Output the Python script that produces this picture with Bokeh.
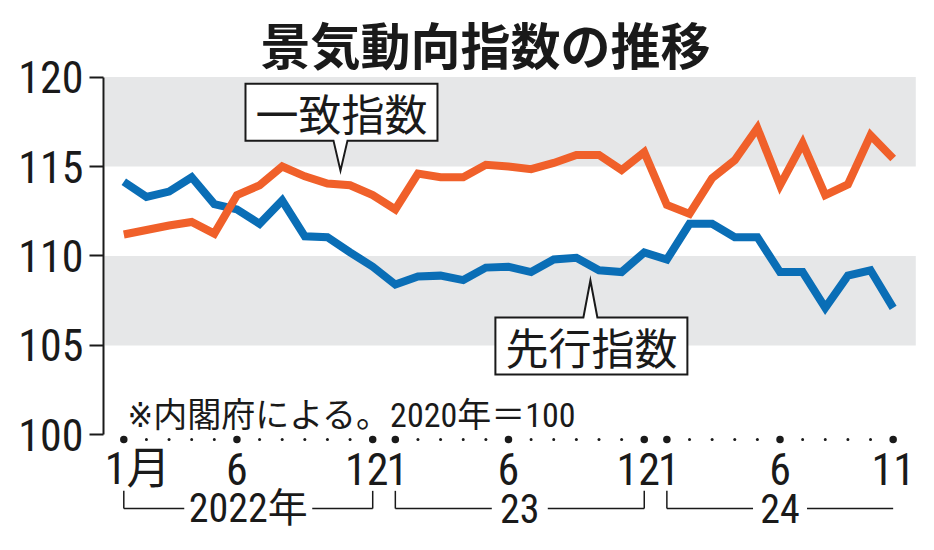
from bokeh.plotting import figure
from bokeh.models import Range1d, FixedTicker, BoxAnnotation
from bokeh.core.properties import value
from bokeh.embed import file_html
from bokeh.resources import INLINE

# ---------------- data ----------------
months = list(range(35))  # Jan 2022 .. Nov 2024
leading = [114.15, 113.3, 113.6, 114.4, 112.9, 112.6, 111.8, 113.1, 111.1, 111.05, 110.2, 109.4,
           108.4, 108.85, 108.9, 108.65, 109.35, 109.4, 109.1, 109.8, 109.9, 109.2, 109.1, 110.2,
           109.8, 111.8, 111.8, 111.05, 111.05, 109.1, 109.1, 107.1, 108.9, 109.2, 107.1]
coincident = [111.2, 111.45, 111.7, 111.9, 111.25, 113.4, 113.95, 115.0, 114.45, 114.05, 113.95, 113.4,
              112.6, 114.6, 114.4, 114.4, 115.1, 115.0, 114.85, 115.2, 115.65, 115.65, 114.8, 115.8,
              112.85, 112.35, 114.35, 115.35, 117.15, 113.95, 116.3, 113.4, 114.0, 116.75, 115.45]
y_ticks = [100, 105, 110, 115, 120]
bands = [(105, 110), (115, 120)]
tick_months = [0, 5, 11, 12, 17, 23, 24, 29, 34]
tick_labels = ["1月", "6", "12", "1", "6", "12", "1", "6", "11"]
year_labels = ["2022年", "23", "24"]
year_starts = [0, 12, 24]
year_ends = [11, 23, 34]
title_text = "景気動向指数の推移"
note_text = "※内閣府による。2020年＝100"
label_coincident = "一致指数"
label_leading = "先行指数"

# ---------------- style ----------------
BLUE = "#0A6EB6"
ORANGE = "#F0602A"
GRAY = "#E6E7E8"
INK = "#1a1a1a"
NUM_FONT = "'Liberation Sans Narrow', 'Roboto Condensed', 'DejaVu Sans Condensed', 'Noto Sans CJK JP', sans-serif"
JP_FONT = "Noto Sans CJK JP"

PXX = 22.63   # pixels per month
PXY = 17.89   # pixels per index point


def dx(px):
    return px / PXX


def dy(px):
    return px / PXY


p = figure(width=918, height=534,
           x_range=Range1d(-0.897, 35.12), y_range=Range1d(94.43, 124.28),
           output_backend="svg", toolbar_location=None,
           x_axis_location=None, y_axis_location="left",
           min_border_left=103, min_border_right=0, min_border_top=0, min_border_bottom=0)
p.outline_line_color = None
p.background_fill_color = "white"
p.border_fill_color = "white"
p.xgrid.visible = False
p.ygrid.visible = False

ax = p.yaxis[0]
ax.ticker = FixedTicker(ticks=y_ticks)
ax.bounds = (100, 120)
ax.major_tick_in = 0
ax.major_tick_out = 14
ax.minor_tick_in = 0
ax.minor_tick_out = 0
ax.axis_line_width = 2
ax.major_tick_line_width = 2
ax.axis_line_color = INK
ax.major_tick_line_color = INK
ax.major_label_text_font = NUM_FONT
ax.major_label_text_font_size = "44px"
ax.major_label_text_color = INK
ax.major_label_standoff = 6

# gray bands
for b0, b1 in bands:
    p.add_layout(BoxAnnotation(left=-0.85, right=35.0, bottom=b0, top=b1,
                               fill_color=GRAY, fill_alpha=1.0, line_color=None, level="underlay"))

# series
p.line(months, leading, line_width=8, line_color=BLUE, line_join="miter")
p.line(months, coincident, line_width=8, line_color=ORANGE, line_join="miter")

# x axis dots
dot_y = 100 - dy(4.7)
sizes = [7.5 if m in tick_months else 3.0 for m in months]
p.scatter(months, [dot_y] * len(months), size=sizes, color=INK, line_color=None)

# month labels
lab_y = 100 - dy(34.2)
first = tick_labels[0]
p.text(x=[tick_months[0]], y=[lab_y], text=[first], x_offset=[-19],
       text_font=value(NUM_FONT), text_font_size="44px", text_color=INK,
       text_align="left", text_baseline="middle")
offs = {"12": -6, "1": 2, "6": 0, "11": 0}
p.text(x=tick_months[1:], y=[lab_y] * (len(tick_months) - 1), text=tick_labels[1:],
       x_offset=[offs[t] for t in tick_labels[1:]],
       text_font=value(NUM_FONT), text_font_size="44px", text_color=INK,
       text_align="center", text_baseline="middle")

# year labels + brackets
yl_y = 100 - dy(73.7)
line_y = 100 - dy(73.7)
tick_top = 100 - dy(56)
half_gaps = [64, 28, 27]
centers = [(s + e) / 2 for s, e in zip(year_starts, year_ends)]
p.text(x=centers, y=[yl_y] * 3, text=year_labels,
       text_font=value(NUM_FONT), text_font_size="40px", text_color=INK,
       text_align="center", text_baseline="middle")
hx0, hx1, vx = [], [], []
for k, (s, e, c) in enumerate(zip(year_starts, year_ends, centers)):
    g = dx(half_gaps[k])
    hx0 += [s, c + g]
    hx1 += [c - g, e]
    vx.append(s)
    if k < 2:
        vx.append(e)
p.segment(x0=hx0, y0=[line_y] * len(hx0), x1=hx1, y1=[line_y] * len(hx1),
          line_color=INK, line_width=1.5)
p.segment(x0=vx, y0=[tick_top] * len(vx), x1=vx, y1=[line_y] * len(vx),
          line_color=INK, line_width=1.5)

# note
p.text(x=[dx(3.7)], y=[100 + dy(20.3)], text=[note_text],
       text_font=value(NUM_FONT), text_font_size="34px", text_color=INK,
       text_align="left", text_baseline="middle")

# title
p.text(x=[dx(361.7)], y=[100 + dy(392.3)], text=[title_text],
       text_font=value(JP_FONT), text_font_size="50px", text_font_style="bold",
       text_color=INK, text_align="center", text_baseline="middle")


# callouts
def callout(tip_x, tip_y, direction, text, w=192, h=57, gap=30, base=14, cx_off=1):
    cx = tip_x + dx(cx_off)
    hw = dx(w / 2)
    hb = dx(base / 2)
    if direction == "down":  # box above tip
        yb = tip_y + dy(gap)
        yt = yb + dy(h)
        xs = [cx - hw, cx + hw, cx + hw, tip_x + hb, tip_x, tip_x - hb, cx - hw]
        ys = [yt, yt, yb, yb, tip_y, yb, yb]
    else:  # box below tip
        yt = tip_y - dy(gap)
        yb = yt - dy(h)
        xs = [cx - hw, cx - hw, tip_x - hb, tip_x, tip_x + hb, cx + hw, cx + hw]
        ys = [yb, yt, yt, tip_y, yt, yt, yb]
    p.patch(xs, ys, fill_color="white", line_color=INK, line_width=2, line_join="miter")
    p.text(x=[cx], y=[(yt + yb) / 2], text=[text], text_font=value(JP_FONT),
           text_font_size="43px", text_color=INK, text_align="center", text_baseline="middle")


callout(9.576, 114.77, "down", label_coincident, gap=30)
callout(20.62, 108.63, "up", label_leading, gap=37)

open("out.html", "w").write(file_html(p, INLINE))
